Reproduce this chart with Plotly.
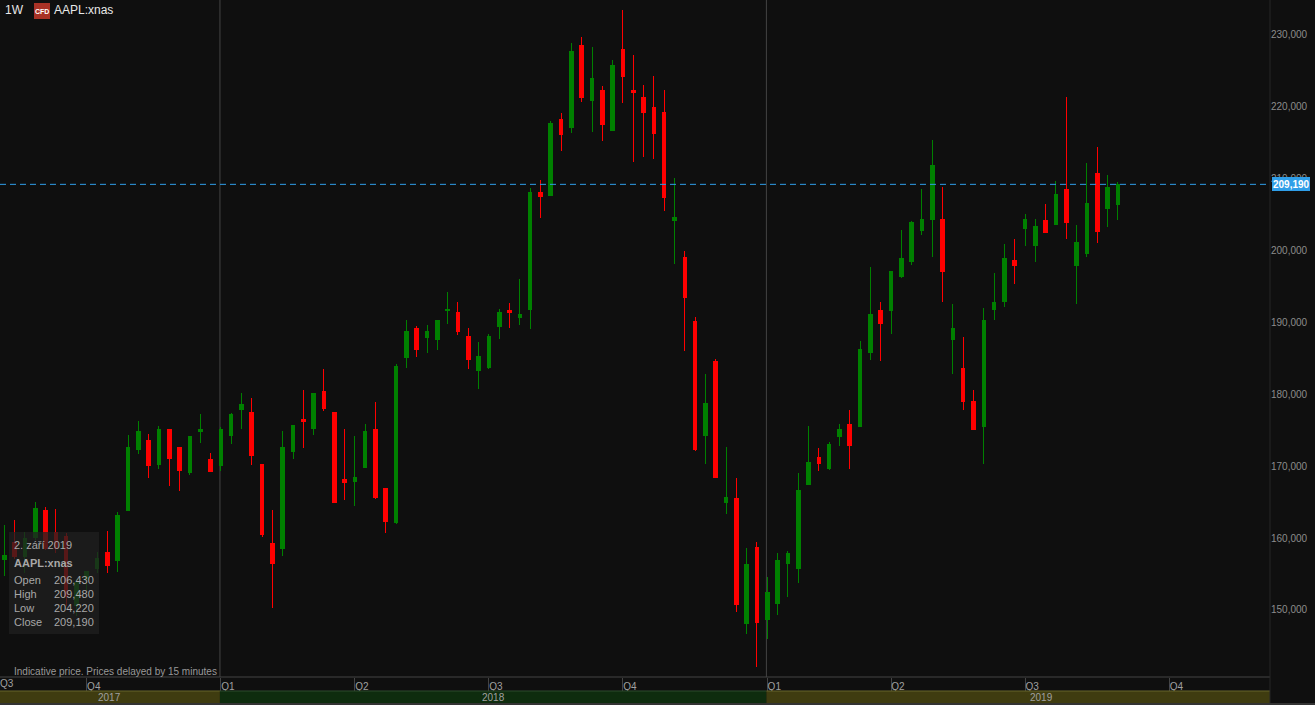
import pandas as pd
import plotly.graph_objects as go

open_ = [156.96,159.32,157.37,160.01,163.77,160.71,160.15,150.56,154.17,155.70,
157.93,156.82,163.77,172.25,173.51,170.17,175.04,172.53,169.05,174.76,
170.86,170.03,174.20,177.82,177.40,170.17,159.18,158.49,171.98,176.43,
175.17,180.32,177.40,168.08,167.80,169.75,175.04,166.83,162.10,185.05,
189.08,187.83,187.55,191.59,191.31,187.97,183.24,183.66,189.36,191.59,
190.61,191.73,208.00,207.58,218.15,217.04,228.44,220.79,222.18,216.62,
227.89,222.18,221.21,219.82,219.12,204.10,198.96,190.06,174.20,184.49,
164.88,165.44,148.05,158.62,148.61,150.84,156.40,155.70,167.39,171.14,
169.61,174.06,175.73,175.45,185.75,191.59,191.59,196.31,198.40,202.71,
204.24,204.24,187.55,183.52,178.93,175.45,191.73,192.84,198.54,202.99,
200.63,204.10,203.55,208.41,197.84,199.51,210.64,205.77,206.43]
high = [161.82,162.52,160.85,165.02,164.33,164.05,160.71,154.31,155.43,158.07,
160.99,163.63,174.34,176.29,174.48,175.59,175.04,172.67,174.20,177.26,
171.84,175.45,177.40,180.18,179.49,170.17,163.91,174.90,175.73,180.60,
180.04,183.52,177.54,175.17,174.20,175.87,178.93,166.97,184.21,190.33,
189.50,189.64,190.33,194.23,192.84,189.22,187.27,188.39,191.86,192.70,
196.04,208.69,209.81,218.01,219.12,228.86,229.69,228.30,222.88,226.50,
233.45,227.19,223.02,224.27,222.32,210.08,199.93,190.75,182.82,184.91,
172.67,168.36,158.62,159.46,154.59,157.93,158.21,169.05,175.59,172.53,
173.37,175.87,177.82,187.41,197.71,192.84,197.15,202.85,204.10,208.55,
215.37,208.83,192.56,187.97,180.60,192.00,196.87,200.90,201.60,205.08,
204.38,206.47,209.67,221.35,203.55,212.17,214.40,210.50,209.48]
low = [154.73,157.09,155.15,159.74,158.35,157.93,150.56,149.17,152.78,155.15,
155.15,155.29,163.77,171.70,168.36,169.61,167.25,166.55,168.78,173.23,
169.19,169.33,173.09,175.17,170.17,160.15,150.28,157.51,171.00,172.53,
174.34,177.68,164.88,165.30,164.47,169.75,165.44,160.71,161.96,183.66,
185.19,185.75,186.16,189.78,188.25,183.52,180.74,183.52,187.69,189.22,
189.64,189.08,204.52,207.58,213.84,216.34,220.65,216.48,215.23,216.62,
220.51,212.31,213.00,212.73,205.49,198.12,186.02,172.11,170.31,168.36,
163.35,149.72,146.66,142.07,145.97,149.31,151.81,153.76,167.39,169.33,
169.47,172.81,169.61,175.45,184.77,184.63,188.39,196.18,197.98,202.16,
199.10,192.84,182.82,177.82,175.04,170.31,190.33,192.14,195.34,200.63,
198.40,202.43,203.55,201.60,192.56,199.10,201.04,203.27,204.22]
close = [157.51,157.37,159.88,164.05,158.49,158.49,151.81,153.76,155.29,157.09,
156.12,163.07,172.53,174.76,170.03,175.04,171.00,169.33,174.06,175.04,
169.19,175.04,177.12,178.51,171.42,160.43,156.40,172.53,175.59,176.15,
180.04,177.96,164.88,167.66,168.36,174.76,165.58,162.24,183.80,188.67,
186.16,188.67,190.20,191.73,188.67,184.77,185.19,187.97,191.31,191.31,
191.03,208.00,207.44,217.59,216.06,227.61,221.21,223.85,217.45,225.66,
224.13,221.91,219.12,216.20,207.30,204.52,193.39,172.25,178.65,168.36,
165.58,150.70,156.26,148.19,152.37,156.82,157.79,166.55,170.45,170.31,
172.95,175.04,172.81,186.16,191.03,189.78,197.01,198.82,203.83,204.24,
211.75,197.01,189.08,178.93,175.04,190.20,192.70,198.82,197.84,204.24,
203.27,202.43,207.72,203.83,201.04,206.47,202.57,208.69,209.19]

first_week = pd.Timestamp("2017-08-07")
weeks = pd.date_range(first_week, periods=len(close), freq="7D")

quarter_starts = ["2017-10-02","2018-01-01","2018-04-02","2018-07-02","2018-10-01",
                  "2019-01-07","2019-04-01","2019-07-01","2019-10-07"]
quarter_labels = ["Q4","Q1","Q2","Q3","Q4","Q1","Q2","Q3","Q4"]
price_ticks = [150,160,170,180,190,200,210,220,230]
years = ["2017","2018","2019"]
last_price = 209.19
info_rows = [("Open","206,430"),("High","209,480"),("Low","204,220"),("Close","209,190")]

W, H, PW, PH = 1315, 705, 1270, 677
x_start = first_week - pd.Timedelta(days=2.92)
x_end = first_week + pd.Timedelta(days=859.3)
FONT = "Liberation Sans"
BG = "#0f0f0f"
TXT = "#a0a0a0"
BLUE = "#2f9ee8"

def px(p):
    return p / PW
def py(p):
    return 1 - p / PH

def label(x, y, text, size=10, color=TXT, anchor="left", bold=False):
    return dict(xref="paper", yref="paper", x=px(x), y=py(y), text=f"<b>{text}</b>" if bold else text,
                showarrow=False, xanchor=anchor, yanchor="middle", align=anchor,
                font=dict(family=FONT, size=size, color=color), borderpad=0, borderwidth=0)

fig = go.Figure(go.Candlestick(
    x=weeks, open=open_, high=high, low=low, close=close,
    increasing=dict(line=dict(color="#008000", width=1), fillcolor="#008000"),
    decreasing=dict(line=dict(color="#ff0000", width=1), fillcolor="#ff0000"),
    whiskerwidth=0, hoverinfo="skip", showlegend=False))

shapes = []
for d in ["2018-01-01", "2019-01-07"]:
    xline = pd.Timestamp(d) - pd.Timedelta(days=0.6)
    shapes.append(dict(type="line", xref="x", yref="paper", x0=xline, x1=xline, y0=py(0), y1=py(677),
                       line=dict(color="#444444", width=1), layer="below"))
shapes.append(dict(type="line", xref="x", yref="y", x0=x_start, x1=x_end, y0=last_price, y1=last_price,
                   line=dict(color=BLUE, width=1, dash="6px,4px"), layer="above"))
bounds = [x_start, pd.Timestamp("2018-01-01") - pd.Timedelta(days=0.6),
          pd.Timestamp("2019-01-07") - pd.Timedelta(days=0.6), x_end]
band_fill = ["#3f3c10", "#0e2c0e", "#3f3c10"]
band_line = ["#66652a", "#2c4a2c", "#66652a"]
for i in range(3):
    shapes.append(dict(type="rect", xref="x", yref="paper", x0=bounds[i], x1=bounds[i+1], y0=py(691), y1=py(703),
                       fillcolor=band_fill[i], line=dict(width=0), layer="above"))
    shapes.append(dict(type="line", xref="x", yref="paper", x0=bounds[i], x1=bounds[i+1], y0=py(691), y1=py(691),
                       line=dict(color=band_line[i], width=1), layer="above"))
shapes += [
    dict(type="line", xref="paper", yref="paper", x0=0, x1=1, y0=py(677), y1=py(677), line=dict(color="#444444", width=1)),
    dict(type="line", xref="paper", yref="paper", x0=1, x1=1, y0=py(0), y1=py(705), line=dict(color="#262626", width=1)),
    dict(type="rect", xref="paper", yref="paper", x0=0, x1=px(1315), y0=py(703), y1=py(705),
         fillcolor="#333333", line=dict(width=0)),
    dict(type="rect", xref="paper", yref="paper", x0=px(9), x1=px(99), y0=py(532), y1=py(634),
         fillcolor="rgba(32,32,32,0.75)", line=dict(width=0), layer="above"),
    dict(type="rect", xref="paper", yref="paper", x0=px(34), x1=px(50), y0=py(3), y1=py(19),
         fillcolor="#a93226", line=dict(width=0), layer="above"),
    dict(type="rect", xref="paper", yref="paper", x0=px(1272), x1=px(1310), y0=py(177), y1=py(191),
         fillcolor=BLUE, line=dict(width=0), layer="above"),
]

ann = [
    label(5, 10, "1W", size=12, color="#e8e8e8"),
    label(42, 11, "CFD", size=7, color="#ffffff", anchor="center", bold=True),
    label(54, 10, "AAPL:xnas", size=12, color="#e8e8e8"),
    label(14, 545, "2. září 2019", size=11, color="#a8a8a8"),
    label(14, 563, "AAPL:xnas", size=11, color="#a8a8a8", bold=True),
    label(14, 671, "Indicative price. Prices delayed by 15 minutes", size=10, color="#999999"),
    label(1291, 184, "209,190", size=10, color="#ffffff", anchor="center", bold=True),
    label(109, 697, years[0], size=10, color="#a0a0a0", anchor="center"),
    label(493, 697, years[1], size=10, color="#a0a0a0", anchor="center"),
    label(1041, 697, years[2], size=10, color="#a0a0a0", anchor="center"),
    label(0, 683, "Q3", size=10, color="#a0a0a0"),
]
for i, (name, value) in enumerate(info_rows):
    ann.append(label(14, 580 + i * 14, name, size=11, color="#a8a8a8"))
    ann.append(label(94, 580 + i * 14, value, size=11, color="#a8a8a8", anchor="right"))

fig.update_layout(
    width=W, height=H, margin=dict(l=0, r=W-PW, t=0, b=H-PH, pad=0),
    paper_bgcolor=BG, plot_bgcolor=BG, separators=", ", showlegend=False, boxgap=0.5,
    font=dict(family=FONT, size=10, color=TXT),
    shapes=shapes, annotations=ann,
    xaxis=dict(type="date", range=[x_start, x_end], rangeslider=dict(visible=False), showgrid=False, zeroline=False,
               tickmode="array", tickvals=quarter_starts, ticktext=quarter_labels, ticks="outside", ticklen=13,
               tickcolor="#444444", tickwidth=1, ticklabelshift=7, ticklabelstandoff=-13,
               tickfont=dict(family=FONT, size=10, color="#a0a0a0"), showline=False),
    yaxis=dict(side="right", range=[140.67, 234.83], tickmode="array", tickvals=price_ticks, tickformat=".3f",
               showgrid=False, zeroline=False, ticks="", showline=False,
               tickfont=dict(family=FONT, size=10, color="#8c8c8c")),
)
fig.write_html("out.html", config={"displayModeBar": False},
               post_script="document.body.style.margin='0';document.body.style.background='#0f0f0f';"
                           "document.querySelectorAll('.boxes path').forEach(p=>p.style.shapeRendering='crispEdges');")
